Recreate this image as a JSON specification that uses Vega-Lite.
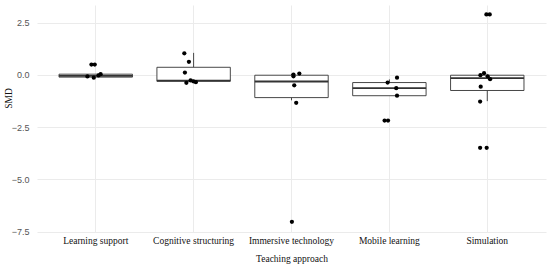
{
  "$schema": "https://vega.github.io/schema/vega-lite/v6.json",
  "width": 509,
  "height": 227,
  "autosize": {"type": "none"},
  "padding": {"left": 37, "top": 5, "right": 4, "bottom": 36},
  "background": "white",
  "config": {"view": {"stroke": null}},
  "datasets": {
    "boxes": [
      {"approach": "Learning support", "lower": -0.11, "q1": -0.11, "median": -0.05, "q3": 0.03, "upper": 0.03},
      {"approach": "Cognitive structuring", "lower": -0.31, "q1": -0.31, "median": -0.28, "q3": 0.36, "upper": 1.05},
      {"approach": "Immersive technology", "lower": -1.22, "q1": -1.09, "median": -0.32, "q3": -0.02, "upper": 0.04},
      {"approach": "Mobile learning", "lower": -1.0, "q1": -1.0, "median": -0.64, "q3": -0.37, "upper": -0.22},
      {"approach": "Simulation", "lower": -1.26, "q1": -0.75, "median": -0.16, "q3": -0.02, "upper": 0.02}
    ],
    "points": [
      {"approach": "Learning support", "SMD": 0.49, "jitter": -0.044},
      {"approach": "Learning support", "SMD": 0.49, "jitter": -0.01},
      {"approach": "Learning support", "SMD": -0.08, "jitter": -0.085},
      {"approach": "Learning support", "SMD": -0.14, "jitter": -0.02},
      {"approach": "Learning support", "SMD": -0.03, "jitter": 0.028},
      {"approach": "Learning support", "SMD": 0.03, "jitter": 0.05},
      {"approach": "Cognitive structuring", "SMD": 1.03, "jitter": -0.095},
      {"approach": "Cognitive structuring", "SMD": 0.62, "jitter": -0.048},
      {"approach": "Cognitive structuring", "SMD": 0.11, "jitter": -0.089},
      {"approach": "Cognitive structuring", "SMD": -0.38, "jitter": -0.074},
      {"approach": "Cognitive structuring", "SMD": -0.27, "jitter": -0.031},
      {"approach": "Cognitive structuring", "SMD": -0.31, "jitter": -0.003},
      {"approach": "Cognitive structuring", "SMD": -0.35, "jitter": 0.023},
      {"approach": "Immersive technology", "SMD": 0.01, "jitter": 0.02},
      {"approach": "Immersive technology", "SMD": -0.07, "jitter": 0.02},
      {"approach": "Immersive technology", "SMD": 0.06, "jitter": 0.08},
      {"approach": "Immersive technology", "SMD": -0.5, "jitter": 0.028},
      {"approach": "Immersive technology", "SMD": -1.34, "jitter": 0.048},
      {"approach": "Immersive technology", "SMD": -7.03, "jitter": 0.004},
      {"approach": "Mobile learning", "SMD": -0.37, "jitter": -0.018},
      {"approach": "Mobile learning", "SMD": -0.14, "jitter": 0.078},
      {"approach": "Mobile learning", "SMD": -0.64, "jitter": 0.07},
      {"approach": "Mobile learning", "SMD": -1.0, "jitter": 0.078},
      {"approach": "Mobile learning", "SMD": -2.19, "jitter": -0.049},
      {"approach": "Mobile learning", "SMD": -2.19, "jitter": -0.014},
      {"approach": "Simulation", "SMD": 2.89, "jitter": -0.009},
      {"approach": "Simulation", "SMD": 2.89, "jitter": 0.025},
      {"approach": "Simulation", "SMD": -0.02, "jitter": -0.07},
      {"approach": "Simulation", "SMD": 0.08, "jitter": -0.033},
      {"approach": "Simulation", "SMD": -0.07, "jitter": 0.004},
      {"approach": "Simulation", "SMD": -0.21, "jitter": 0.029},
      {"approach": "Simulation", "SMD": -0.57, "jitter": -0.067},
      {"approach": "Simulation", "SMD": -1.28, "jitter": -0.073},
      {"approach": "Simulation", "SMD": -3.49, "jitter": -0.073},
      {"approach": "Simulation", "SMD": -3.49, "jitter": -0.006}
    ]
  },
  "encoding": {
    "x": {
      "field": "approach",
      "type": "nominal",
      "title": "Teaching approach",
      "scale": {
        "domain": ["Learning support", "Cognitive structuring", "Immersive technology", "Mobile learning", "Simulation"],
        "paddingInner": 0.25,
        "paddingOuter": 0.225
      },
      "axis": {
        "labelAngle": 0,
        "grid": true,
        "bandPosition": 0.5,
        "gridColor": "#EBEBEB",
        "gridWidth": 1,
        "domain": false,
        "ticks": false,
        "labelPadding": 3,
        "labelFont": "Liberation Serif",
        "labelFontSize": 9.5,
        "labelColor": "#111111",
        "titleFont": "Liberation Serif",
        "titleFontSize": 9.5,
        "titleFontWeight": "normal",
        "titleColor": "#111111",
        "titlePadding": 9
      }
    }
  },
  "resolve": {"scale": {"xOffset": "independent"}},
  "layer": [
    {
      "data": {"name": "boxes"},
      "mark": {"type": "rule", "color": "#333333", "strokeWidth": 0.9},
      "encoding": {
        "y": {
          "field": "lower",
          "type": "quantitative",
          "title": "SMD",
          "scale": {"domain": [-7.52, 3.34], "nice": false, "zero": false},
          "axis": {
            "values": [-7.5, -6.25, -5, -3.75, -2.5, -1.25, 0, 1.25, 2.5],
            "labelExpr": "datum.value % 2.5 === 0 ? format(datum.value, '.1f') : ''",
            "gridColor": {"condition": {"test": "datum.value % 2.5 === 0", "value": "#EBEBEB"}, "value": "#F3F3F3"},
            "gridWidth": 1,
            "domain": false,
            "ticks": false,
            "labelPadding": 8,
            "labelFont": "Liberation Sans",
            "labelFontSize": 9,
            "labelColor": "#555555",
            "titleFont": "Liberation Serif",
            "titleFontSize": 9.5,
            "titleFontWeight": "normal",
            "titleColor": "#111111",
            "titleY": 93,
            "titleX": -29,
            "titleAngle": -90,
            "titleBaseline": "middle",
            "titleAlign": "center"
          }
        },
        "y2": {"field": "q1"}
      }
    },
    {
      "data": {"name": "boxes"},
      "mark": {"type": "rule", "color": "#333333", "strokeWidth": 0.9},
      "encoding": {
        "y": {"field": "q3", "type": "quantitative", "title": "SMD"},
        "y2": {"field": "upper"}
      }
    },
    {
      "data": {"name": "boxes"},
      "mark": {"type": "bar", "fill": "white", "stroke": "#333333", "strokeWidth": 0.9, "width": {"expr": "bandwidth('x')"}},
      "encoding": {
        "y": {"field": "q1", "type": "quantitative", "title": "SMD"},
        "y2": {"field": "q3"}
      }
    },
    {
      "data": {"name": "boxes"},
      "mark": {"type": "bar", "fill": null, "stroke": "#333333", "strokeWidth": 1.8, "width": {"expr": "bandwidth('x')"}},
      "encoding": {
        "y": {"field": "median", "type": "quantitative", "title": "SMD"},
        "y2": {"field": "median"}
      }
    },
    {
      "data": {"name": "points"},
      "mark": {"type": "point", "filled": true, "color": "black", "opacity": 1, "size": 18},
      "encoding": {
        "y": {"field": "SMD", "type": "quantitative", "title": "SMD"},
        "xOffset": {"field": "jitter", "type": "quantitative", "scale": {"domain": [-0.375, 0.375]}}
      }
    }
  ]
}
